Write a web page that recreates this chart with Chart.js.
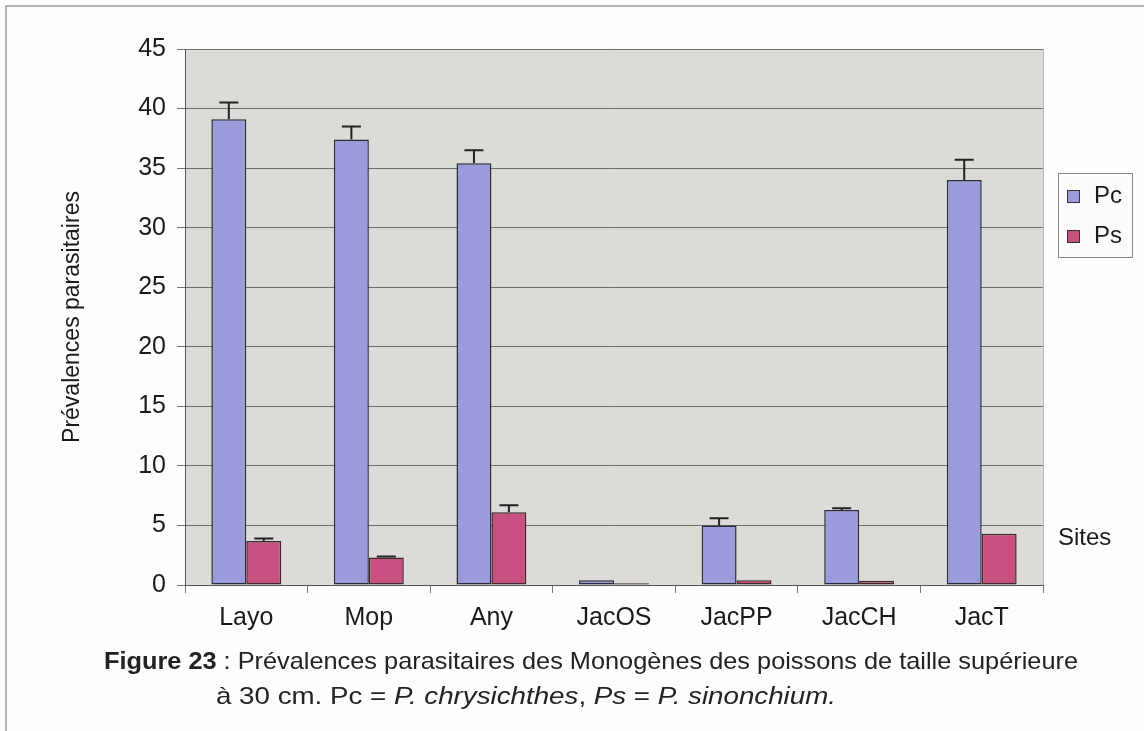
<!DOCTYPE html>
<html>
<head>
<meta charset="utf-8">
<script src="https://cdn.jsdelivr.net/npm/chart.js@4.4.0/dist/chart.umd.min.js"></script>
<style>
    html, body { margin: 0; padding: 0; background: #fdfdfd; }
    #wrap { width: 1144px; height: 731px; position: relative; }
</style>
</head>
<body>
<div id="wrap"><canvas id="chart" width="1144" height="731"></canvas></div>
<script>
// data
const sites = ['Layo', 'Mop', 'Any', 'JacOS', 'JacPP', 'JacCH', 'JacT'];
const pcValues = [39.1, 37.4, 35.4, 0.4, 5.0, 6.3, 34.0];
const psValues = [3.7, 2.3, 6.1, 0.15, 0.4, 0.35, 4.3];
const pcErrors = [1.4, 1.1, 1.1, 0, 0.6, 0.15, 1.7];
const psErrors = [0.2, 0.1, 0.6, 0, 0, 0, 0];
const yTicks = [0, 5, 10, 15, 20, 25, 30, 35, 40, 45];

const FONT = '"Liberation Sans", Arial, sans-serif';
const pcColor = '#9b9bdc';
const psColor = '#c94f80';

// upper error whiskers
const errorBars = {
    id: 'errorBars',
    afterDatasetsDraw(chart) {
        const ctx = chart.ctx;
        const y = chart.scales.y;
        const errs = [pcErrors, psErrors];
        const vals = [pcValues, psValues];
        ctx.save();
        ctx.strokeStyle = '#222';
        ctx.lineWidth = 2;
        errs.forEach((errList, d) => {
            const meta = chart.getDatasetMeta(d);
            errList.forEach((e, i) => {
                if (!e) return;
                const bar = meta.data[i];
                const top = y.getPixelForValue(vals[d][i] + e);
                const base = y.getPixelForValue(vals[d][i]);
                ctx.beginPath();
                ctx.moveTo(bar.x, base);
                ctx.lineTo(bar.x, top);
                ctx.moveTo(bar.x - 9.5, top);
                ctx.lineTo(bar.x + 9.5, top);
                ctx.stroke();
            });
        });
        ctx.restore();
    }
};

// text stretched to a given width
function fitText(ctx, parts, x, y, width) {
    let total = 0;
    parts.forEach(p => { ctx.font = p[1]; total += ctx.measureText(p[0]).width; });
    const k = width / total;
    ctx.save();
    ctx.translate(x, y);
    ctx.scale(k, 1);
    let cx = 0;
    parts.forEach(p => {
        ctx.font = p[1];
        ctx.fillText(p[0], cx, 0);
        cx += ctx.measureText(p[0]).width;
    });
    ctx.restore();
}

// plot background, frame, legend, texts
const decor = {
    id: 'decor',
    beforeDraw(chart) {
        const ctx = chart.ctx;
        const a = chart.chartArea;
        ctx.save();
        ctx.fillStyle = '#fdfdfd';
        ctx.fillRect(0, 0, chart.width, chart.height);
        ctx.fillStyle = '#dddbd8';
        ctx.fillRect(a.left, a.top, a.right - a.left, a.bottom - a.top);
        ctx.strokeStyle = '#b5b5b5';
        ctx.lineWidth = 1;
        ctx.strokeRect(a.left + 0.5, a.top + 0.5, a.right - a.left, a.bottom - a.top);
        // page frame
        ctx.strokeStyle = '#9a9a9a';
        ctx.lineWidth = 1.5;
        ctx.beginPath();
        ctx.moveTo(6, chart.height);
        ctx.lineTo(6, 6);
        ctx.lineTo(chart.width, 6);
        ctx.stroke();
        ctx.restore();
    },
    afterDraw(chart) {
        const ctx = chart.ctx;
        const a = chart.chartArea;
        ctx.save();
        ctx.fillStyle = '#1a1a1a';

        // y axis title
        ctx.save();
        ctx.translate(73, (a.top + a.bottom) / 2);
        ctx.rotate(-Math.PI / 2);
        ctx.font = '23px ' + FONT;
        ctx.textAlign = 'center';
        ctx.textBaseline = 'middle';
        ctx.fillText('Prévalences parasitaires', 0, 0);
        ctx.restore();

        // legend
        ctx.fillStyle = '#fbfbfb';
        ctx.fillRect(1058, 173, 74, 84);
        ctx.strokeStyle = '#8a8a8a';
        ctx.lineWidth = 1;
        ctx.strokeRect(1058.5, 173.5, 74, 84);
        const items = [['Pc', pcColor, 196], ['Ps', psColor, 236]];
        items.forEach(([label, col, cy]) => {
            ctx.fillStyle = col;
            ctx.fillRect(1067, cy - 6, 13, 13);
            ctx.strokeStyle = '#333';
            ctx.strokeRect(1067.5, cy - 5.5, 12, 12);
            ctx.fillStyle = '#1a1a1a';
            ctx.font = '24px ' + FONT;
            ctx.textAlign = 'left';
            ctx.textBaseline = 'middle';
            ctx.fillText(label, 1094, cy);
        });

        // x axis title at the right
        ctx.font = '24px ' + FONT;
        ctx.textBaseline = 'middle';
        ctx.fillText('Sites', 1058, 538);

        // caption
        ctx.fillStyle = '#222';
        ctx.textBaseline = 'middle';
        const reg = '24px ' + FONT;
        const bold = 'bold 24px ' + FONT;
        const ital = 'italic 24px ' + FONT;
        fitText(ctx, [
            ['Figure 23', bold],
            [' : Prévalences parasitaires des Monogènes des poissons de taille supérieure', reg]
        ], 104, 662, 974);
        fitText(ctx, [
            ['à 30 cm. Pc = ', reg],
            ['P. chrysichthes', ital],
            [', ', reg],
            ['Ps', ital],
            [' = ', reg],
            ['P. sinonchium.', ital]
        ], 216, 697, 620);
        ctx.restore();
    }
};

const ctx = document.getElementById('chart').getContext('2d');

new Chart(ctx, {
    type: 'bar',
    data: {
        labels: sites,
        datasets: [
            {
                label: 'Pc',
                data: pcValues,
                backgroundColor: pcColor,
                borderColor: '#2a2a3a',
                borderWidth: 1.5,
                borderSkipped: false,
                categoryPercentage: 0.57,
                barPercentage: 1
            },
            {
                label: 'Ps',
                data: psValues,
                backgroundColor: psColor,
                borderColor: '#3a2a2a',
                borderWidth: 1.5,
                borderSkipped: false,
                categoryPercentage: 0.57,
                barPercentage: 1
            }
        ]
    },
    options: {
        responsive: false,
        animation: false,
        layout: {
            padding: { top: 49, right: 101, bottom: 0, left: 0 }
        },
        plugins: {
            legend: { display: false },
            tooltip: { enabled: false }
        },
        scales: {
            x: {
                afterFit(scale) { scale.height = 146; },
                grid: {
                    offset: true,
                    drawOnChartArea: false,
                    drawTicks: true,
                    tickLength: 8,
                    color: '#777'
                },
                border: { color: '#555', width: 1 },
                ticks: {
                    color: '#1a1a1a',
                    padding: 10,
                    font: { family: FONT, size: 25 }
                }
            },
            y: {
                min: 0,
                max: 45,
                afterFit(scale) { scale.width = 185; },
                afterBuildTicks(scale) {
                    scale.ticks = yTicks.map(v => ({ value: v }));
                },
                grid: {
                    color: '#6e6e6e',
                    lineWidth: 1,
                    drawTicks: true,
                    tickLength: 8
                },
                border: { color: '#555', width: 1 },
                ticks: {
                    color: '#1a1a1a',
                    padding: 11,
                    font: { family: FONT, size: 25 }
                }
            }
        }
    },
    plugins: [decor, errorBars]
});
</script>
</body>
</html>
